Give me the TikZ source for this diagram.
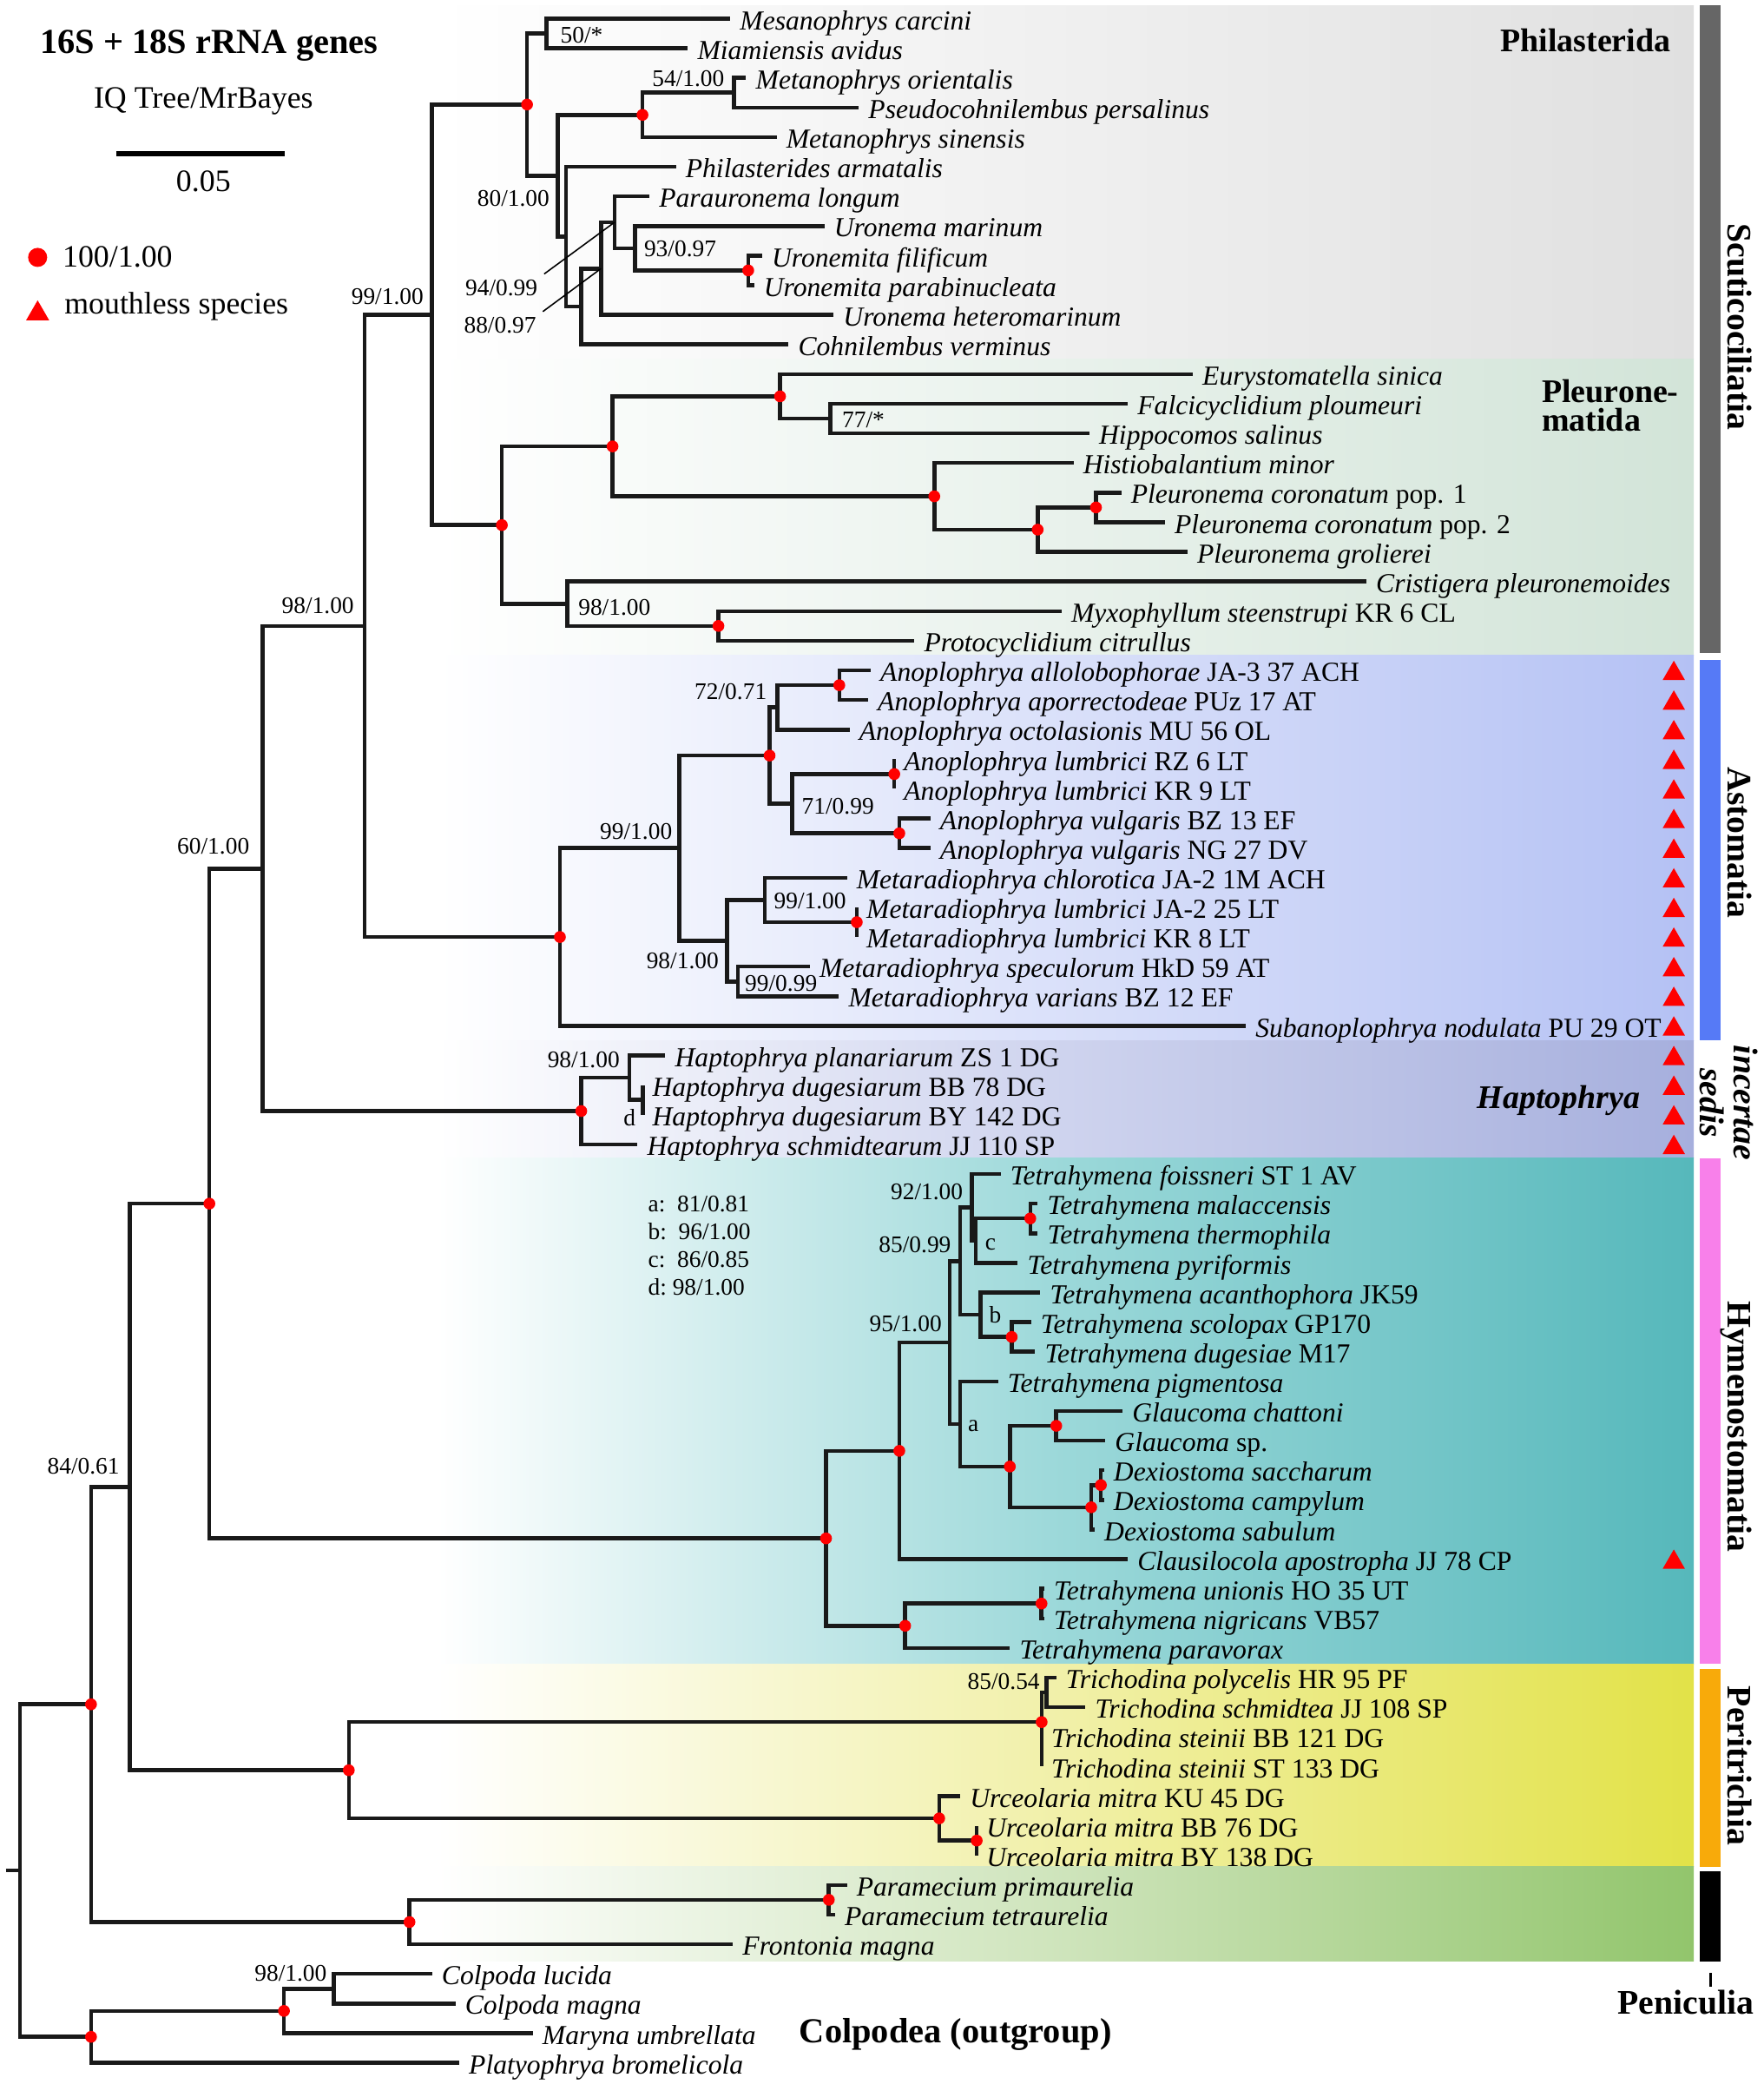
\documentclass[tikz,border=0pt]{standalone}
\usepackage{fontspec}
\setmainfont{Liberation Serif}
\usepackage{tkz-euclide}
\usetikzlibrary{shapes.geometric}
\definecolor{philR}{RGB}{224,224,224}
\definecolor{pleuR}{RGB}{210,228,216}
\definecolor{astoR}{RGB}{180,193,244}
\definecolor{haptM}{RGB}{206,211,238}
\definecolor{haptR}{RGB}{166,175,221}
\definecolor{hymeM}{RGB}{155,216,217}
\definecolor{hymeR}{RGB}{86,184,187}
\definecolor{periM}{RGB}{241,240,168}
\definecolor{periR}{RGB}{226,226,72}
\definecolor{peniM}{RGB}{206,228,187}
\definecolor{peniR}{RGB}{146,197,108}
\definecolor{scuBar}{RGB}{102,102,102}
\definecolor{astBar}{RGB}{86,122,246}
\definecolor{hymBar}{RGB}{248,128,234}
\definecolor{perBar}{RGB}{248,170,10}
\newcommand{\strain}[1]{\textup{#1}}
\newcommand{\dotr}{0.68mm}

\begin{document}
\begin{tikzpicture}[x=0.15267mm,y=-3.4117mm,
 branch/.style={line width=1.3pt,black!90},
 leader/.style={line width=0.45pt},
 taxon/.style={anchor=west,inner xsep=3pt,inner ysep=0pt,text height=0.72em,text depth=0pt,font=\fontsize{9}{10}\selectfont\itshape},
 supp/.style={inner sep=0pt,text height=0.68em,text depth=0pt,font=\fontsize{7.8}{9}\selectfont},
 legtext/.style={inner sep=0pt,font=\fontsize{10.2}{12}\selectfont},
 clade/.style={inner sep=0pt,font=\fontsize{10.8}{12}\selectfont\bfseries},
 sidelab/.style={rotate=-90,inner sep=0pt,text height=0.69em,text depth=0pt,font=\fontsize{11.3}{12}\selectfont\bfseries},
 mouth/.style={regular polygon,regular polygon sides=3,fill=red,inner sep=0pt,minimum size=2.97mm,yshift=-0.37mm}]
\useasboundingbox (0,0.3719) rectangle (1331,70.7173);
% coloured panels of the clades
\shade[left color=white,right color=philR] (330,0.55) rectangle (1278,12.49);
\shade[left color=white,right color=pleuR] (330,12.49) rectangle (1278,22.49);
\shade[left color=white,right color=astoR] (330,22.49) rectangle (1278,35.5);
\shade[left color=white,right color=haptR,middle color=haptM] (330,35.5) rectangle (1278,39.47);
\shade[left color=white,right color=hymeR,middle color=hymeM] (330,39.47) rectangle (1278,56.54);
\shade[left color=white,right color=periR,middle color=periM] (330,56.54) rectangle (1278,63.38);
\shade[left color=white,right color=peniR,middle color=peniM] (330,63.38) rectangle (1278,66.57);
% bars on the right
\fill[scuBar] (1282.3,0.55) rectangle (1298.2,22.41);
\fill[astBar] (1282.3,22.65) rectangle (1298.2,35.5);
\fill[hymBar] (1282.3,39.47) rectangle (1298.2,56.54);
\fill[perBar] (1282.3,56.71) rectangle (1298.2,63.38);
\fill[black] (1282.3,63.54) rectangle (1298.2,66.57);
% points: leaves and nodes
\tkzDefPoints{551/1/t1,519/2/t2,563/3/t3,648/4/t4,586/5/t5,510/6/t6,490/7/t7,622/8/t8,575/9/t9,569/10/t10,629/11/t11,595/12/t12}
\tkzDefPoints{412.3/1.5/nM,553.8/3.5/n54,484.8/4.25/n54p,564.6/9.5/nU,479.2/8.75/n93,463.7/7.875/n94,453.5/9.4375/n88,438.6/10.72/nP3,427/8.36/nP2,421/6.305/nP1,397.7/3.9/nP0}
\tkzDefPoints{900/13/t13,851/14/t14,822/15/t15,810/16/t16,846/17/t17,879/18/t18,896/19/t19,1031/20/t20,801/21/t21,690/22/t22}
\tkzDefPoints{626.6/14.5/n77,588.6/13.75/nEu,827/17.5/nPc,783/18.25/nPg,705/17.125/nHi,462.2/15.44/nPL,542.1/21.5/nMyx,428.2/20.75/n98a,378.7/18.095/nS2,326/11/nS1}
\tkzDefPoints{657/23/t23,655/24/t24,641/25/t25,674.8/26/t26,674.8/27/t27,702/28/t28,702/29/t29,639/30/t30,646.5/31/t31,646.5/32/t32,611/33/t33,633/34/t34,940/35/t35}
\tkzDefPoints{633.3/23.5/nAa,586.5/24.25/n72,674.8/26.5/nAl,678.6/28.5/nAv,597.6/27.5/n71,580.7/25.875/nAn,646.5/31.5/nMl,577.2/30.75/n99b,556.7/33.5/n99c,548.5/32.125/n98b,512.5/29/n99a,422.5/32/nAS,275/21.5/nQ}
\tkzDefPoints{502/36/t36,485/37/t37,485/38/t38,481/39/t39,485/37.5/nd,474.8/36.75/n98h,438.6/37.875/nH,198.2/29.69/nB}
\tkzDefPoints{755/40/t40,783/41/t41,783/42/t42,768/43/t43,785/44/t44,778/45/t45,781/46/t46,753/47/t47,847/48/t48,834/49/t49,833/50/t50,833/51/t51,826/52/t52,851/53/t53,788/54/t54,788/55/t55,762/56/t56}
\tkzDefPoints{777.4/41.5/nTm,736.2/42.25/nc,733.3/41.125/n92,763.4/45.5/nTs,740/44.75/nb,724.5/42.94/n85,797/48.5/nGl,830.7/50.5/nDx,823.4/51.25/nDs,762/49.875/nGD,724.5/48.44/na,716.6/45.69/n95,678.6/49.345/nCl,785.9/54.5/nTu,683/55.25/nTp,623.3/52.3/nHy,158/41/nA}
\tkzDefPoints{797/57/t57,819/58/t58,786/59/t59,786/60/t60,724.5/61/t61,737/62/t62,737/63/t63,789.7/57.5/n85t,786/58.5/nTr,737/62.5/nUk,708.7/61.75/nUr,263.2/60.125/nPe,98/50.56/n84}
\tkzDefPoints{639/64/t64,630/65/t65,553/66/t66,625.4/64.5/nPa,309/65.25/nPn,68.7/57.9/nIn}
\tkzDefPoints{326/67/t67,343.6/68/t68,402/69/t69,346.5/70/t70,252/67.5/n98c,214.3/68.25/nCm,68.7/69.125/nCo,15.2/63.51/nR,4.4/63.51/nR0}
\tkzDefPoints{87.7/5.55/sL,215/5.55/sR,28.4/9.06/kD}
% branches
\draw[branch] (nM)|-(t1) (nM)|-(t2) (n54)|-(t3) (n54)|-(t4) (n54p)|-(n54) (n54p)|-(t5)
 (nU)|-(t9) (nU)|-(t10) (n93)|-(t8) (n93)|-(nU) (n94)|-(t7) (n94)|-(n93) (n88)|-(n94) (n88)|-(t11)
 (nP3)|-(n88) (nP3)|-(t12) (nP2)|-(t6) (nP2)|-(nP3) (nP1)|-(n54p) (nP1)|-(nP2) (nP0)|-(nM) (nP0)|-(nP1);
\draw[branch] (n77)|-(t14) (n77)|-(t15) (nEu)|-(t13) (nEu)|-(n77) (nPc)|-(t17) (nPc)|-(t18) (nPg)|-(nPc) (nPg)|-(t19)
 (nHi)|-(t16) (nHi)|-(nPg) (nPL)|-(nEu) (nPL)|-(nHi) (nMyx)|-(t21) (nMyx)|-(t22) (n98a)|-(t20) (n98a)|-(nMyx)
 (nS2)|-(nPL) (nS2)|-(n98a) (nS1)|-(nP0) (nS1)|-(nS2);
\draw[branch] (nAa)|-(t23) (nAa)|-(t24) (n72)|-(nAa) (n72)|-(t25) (nAl)|-(t26) (nAl)|-(t27) (nAv)|-(t28) (nAv)|-(t29)
 (n71)|-(nAl) (n71)|-(nAv) (nAn)|-(n72) (nAn)|-(n71) (nMl)|-(t31) (nMl)|-(t32) (n99b)|-(t30) (n99b)|-(nMl)
 (n99c)|-(t33) (n99c)|-(t34) (n98b)|-(n99b) (n98b)|-(n99c) (n99a)|-(nAn) (n99a)|-(n98b) (nAS)|-(n99a) (nAS)|-(t35)
 (nQ)|-(nS1) (nQ)|-(nAS);
\draw[branch] (nd)|-(t37) (nd)|-(t38) (n98h)|-(t36) (n98h)|-(nd) (nH)|-(n98h) (nH)|-(t39) (nB)|-(nQ) (nB)|-(nH);
\draw[branch] (nTm)|-(t41) (nTm)|-(t42) (nc)|-(nTm) (nc)|-(t43) (n92)|-(t40) (n92)|-(nc) (nTs)|-(t45) (nTs)|-(t46)
 (nb)|-(t44) (nb)|-(nTs) (n85)|-(n92) (n85)|-(nb) (nGl)|-(t48) (nGl)|-(t49) (nDx)|-(t50) (nDx)|-(t51)
 (nDs)|-(nDx) (nDs)|-(t52) (nGD)|-(nGl) (nGD)|-(nDs) (na)|-(t47) (na)|-(nGD) (n95)|-(n85) (n95)|-(na)
 (nCl)|-(n95) (nCl)|-(t53) (nTu)|-(t54) (nTu)|-(t55) (nTp)|-(nTu) (nTp)|-(t56) (nHy)|-(nCl) (nHy)|-(nTp)
 (nA)|-(nB) (nA)|-(nHy);
\draw[branch] (n85t)|-(t57) (n85t)|-(t58) (nTr)|-(n85t) (nTr)|-(t59) (nTr)|-(t60) (nUk)|-(t62) (nUk)|-(t63)
 (nUr)|-(t61) (nUr)|-(nUk) (nPe)|-(nTr) (nPe)|-(nUr) (n84)|-(nA) (n84)|-(nPe);
\draw[branch] (nPa)|-(t64) (nPa)|-(t65) (nPn)|-(nPa) (nPn)|-(t66) (nIn)|-(n84) (nIn)|-(nPn)
 (n98c)|-(t67) (n98c)|-(t68) (nCm)|-(n98c) (nCm)|-(t69) (nCo)|-(nCm) (nCo)|-(t70)
 (nR)|-(nIn) (nR)|-(nCo) (nR0)--(nR);
% 100/1.00 nodes
\fill[red] (nP0) circle[radius=\dotr] (n54p) circle[radius=\dotr] (nU) circle[radius=\dotr]
 (nEu) circle[radius=\dotr] (nPc) circle[radius=\dotr] (nPg) circle[radius=\dotr] (nHi) circle[radius=\dotr]
 (nPL) circle[radius=\dotr] (nMyx) circle[radius=\dotr] (nS2) circle[radius=\dotr]
 (nAa) circle[radius=\dotr] (nAl) circle[radius=\dotr] (nAv) circle[radius=\dotr] (nAn) circle[radius=\dotr]
 (nMl) circle[radius=\dotr] (nAS) circle[radius=\dotr] (nH) circle[radius=\dotr]
 (nTm) circle[radius=\dotr] (nTs) circle[radius=\dotr] (nGl) circle[radius=\dotr] (nDx) circle[radius=\dotr]
 (nDs) circle[radius=\dotr] (nGD) circle[radius=\dotr] (nCl) circle[radius=\dotr] (nTu) circle[radius=\dotr]
 (nTp) circle[radius=\dotr] (nHy) circle[radius=\dotr] (nA) circle[radius=\dotr]
 (nTr) circle[radius=\dotr] (nUk) circle[radius=\dotr] (nUr) circle[radius=\dotr] (nPe) circle[radius=\dotr]
 (nPa) circle[radius=\dotr] (nPn) circle[radius=\dotr] (nIn) circle[radius=\dotr]
 (nCm) circle[radius=\dotr] (nCo) circle[radius=\dotr];
% support values
\node[supp,anchor=west] (s50) at (422.5,1.47) {50/*};
\node[supp,anchor=east] (s54) at (547,2.94) {54/1.00};
\node[supp,anchor=east] (s80) at (415,6.98) {80/1.00};
\node[supp,anchor=east] (s94) at (406,9.99) {94/0.99};
\node[supp,anchor=east] (s88) at (405,11.26) {88/0.97};
\draw[leader] ([xshift=2pt]s94.north east)--(n94) ([xshift=2pt]s88.north east)--(n88);
\node[supp,anchor=west] (s93) at (485.6,8.69) {93/0.97};
\node[supp,anchor=east] (s99s) at (320,10.28) {99/1.00};
\node[supp,anchor=west] (s77) at (635,14.45) {77/*};
\node[supp,anchor=west] (s98a) at (436,20.78) {98/1.00};
\node[supp,anchor=east] (s98q) at (267.5,20.74) {98/1.00};
\node[supp,anchor=east] (s72) at (579,23.63) {72/0.71};
\node[supp,anchor=west] (s71) at (604.6,27.51) {71/0.99};
\node[supp,anchor=east] (s99a) at (507.6,28.36) {99/1.00};
\node[supp,anchor=west] (s99b) at (583.6,30.7) {99/1.00};
\node[supp,anchor=east] (s98b) at (542.7,32.73) {98/1.00};
\node[supp,anchor=west] (s99c) at (561.7,33.48) {99/0.99};
\node[supp,anchor=east] (s60) at (188.6,28.85) {60/1.00};
\node[supp,anchor=east] (s98h) at (468,36.06) {98/1.00};
\node[supp,anchor=east] (sd) at (480,38.03) {d};
\node[supp,anchor=east] (s92) at (727,40.52) {92/1.00};
\node[supp,anchor=east] (s85) at (718,42.31) {85/0.99};
\node[supp,anchor=west] (sc) at (743,42.2) {c};
\node[supp,anchor=east] (s95) at (711,44.98) {95/1.00};
\node[supp,anchor=west] (sb) at (746,44.69) {b};
\node[supp,anchor=west] (sa) at (730,48.34) {a};
\node[supp,anchor=east] (s84) at (90.6,49.79) {84/0.61};
\node[supp,anchor=east] (s85t) at (785,57.04) {85/0.54};
\node[supp,anchor=east] (s98c) at (247,66.89) {98/1.00};
% key of the lettered nodes
\node[supp,anchor=west] (ka) at (488.6,40.93) {a:~~81/0.81};
\node[supp,anchor=west] (kb) at (488.6,41.85) {b:~~96/1.00};
\node[supp,anchor=west] (kc) at (488.6,42.81) {c:~~86/0.85};
\node[supp,anchor=west] (kd) at (488.6,43.74) {d:~98/1.00};
% taxa
\node[taxon] (L1) at (t1) {Mesanophrys carcini};
\node[taxon] (L2) at (t2) {Miamiensis avidus};
\node[taxon] (L3) at (t3) {Metanophrys orientalis};
\node[taxon] (L4) at (t4) {Pseudocohnilembus persalinus};
\node[taxon] (L5) at (t5) {Metanophrys sinensis};
\node[taxon] (L6) at (t6) {Philasterides armatalis};
\node[taxon] (L7) at (t7) {Parauronema longum};
\node[taxon] (L8) at (t8) {Uronema marinum};
\node[taxon] (L9) at (t9) {Uronemita filificum};
\node[taxon] (L10) at (t10) {Uronemita parabinucleata};
\node[taxon] (L11) at (t11) {Uronema heteromarinum};
\node[taxon] (L12) at (t12) {Cohnilembus verminus};
\node[taxon] (L13) at (t13) {Eurystomatella sinica};
\node[taxon] (L14) at (t14) {Falcicyclidium ploumeuri};
\node[taxon] (L15) at (t15) {Hippocomos salinus};
\node[taxon] (L16) at (t16) {Histiobalantium minor};
\node[taxon] (L17) at (t17) {Pleuronema coronatum \strain{pop. 1}};
\node[taxon] (L18) at (t18) {Pleuronema coronatum \strain{pop. 2}};
\node[taxon] (L19) at (t19) {Pleuronema grolierei};
\node[taxon] (L20) at (t20) {Cristigera pleuronemoides};
\node[taxon] (L21) at (t21) {Myxophyllum steenstrupi \strain{KR 6 CL}};
\node[taxon] (L22) at (t22) {Protocyclidium citrullus};
\node[taxon] (L23) at (t23) {Anoplophrya allolobophorae \strain{JA-3 37 ACH}};
\node[taxon] (L24) at (t24) {Anoplophrya aporrectodeae \strain{PUz 17 AT}};
\node[taxon] (L25) at (t25) {Anoplophrya octolasionis \strain{MU 56 OL}};
\node[taxon] (L26) at (t26) {Anoplophrya lumbrici \strain{RZ 6 LT}};
\node[taxon] (L27) at (t27) {Anoplophrya lumbrici \strain{KR 9 LT}};
\node[taxon] (L28) at (t28) {Anoplophrya vulgaris \strain{BZ 13 EF}};
\node[taxon] (L29) at (t29) {Anoplophrya vulgaris \strain{NG 27 DV}};
\node[taxon] (L30) at (t30) {Metaradiophrya chlorotica \strain{JA-2 1M ACH}};
\node[taxon] (L31) at (t31) {Metaradiophrya lumbrici \strain{JA-2 25 LT}};
\node[taxon] (L32) at (t32) {Metaradiophrya lumbrici \strain{KR 8 LT}};
\node[taxon] (L33) at (t33) {Metaradiophrya speculorum \strain{HkD 59 AT}};
\node[taxon] (L34) at (t34) {Metaradiophrya varians \strain{BZ 12 EF}};
\node[taxon] (L35) at (t35) {Subanoplophrya nodulata \strain{PU 29 OT}};
\node[taxon] (L36) at (t36) {Haptophrya planariarum \strain{ZS 1 DG}};
\node[taxon] (L37) at (t37) {Haptophrya dugesiarum \strain{BB 78 DG}};
\node[taxon] (L38) at (t38) {Haptophrya dugesiarum \strain{BY 142 DG}};
\node[taxon] (L39) at (t39) {Haptophrya schmidtearum \strain{JJ 110 SP}};
\node[taxon] (L40) at (t40) {Tetrahymena foissneri \strain{ST 1 AV}};
\node[taxon] (L41) at (t41) {Tetrahymena malaccensis};
\node[taxon] (L42) at (t42) {Tetrahymena thermophila};
\node[taxon] (L43) at (t43) {Tetrahymena pyriformis};
\node[taxon] (L44) at (t44) {Tetrahymena acanthophora \strain{JK59}};
\node[taxon] (L45) at (t45) {Tetrahymena scolopax \strain{GP170}};
\node[taxon] (L46) at (t46) {Tetrahymena dugesiae \strain{M17}};
\node[taxon] (L47) at (t47) {Tetrahymena pigmentosa};
\node[taxon] (L48) at (t48) {Glaucoma chattoni};
\node[taxon] (L49) at (t49) {Glaucoma \strain{sp.}};
\node[taxon] (L50) at (t50) {Dexiostoma saccharum};
\node[taxon] (L51) at (t51) {Dexiostoma campylum};
\node[taxon] (L52) at (t52) {Dexiostoma sabulum};
\node[taxon] (L53) at (t53) {Clausilocola apostropha \strain{JJ 78 CP}};
\node[taxon] (L54) at (t54) {Tetrahymena unionis \strain{HO 35 UT}};
\node[taxon] (L55) at (t55) {Tetrahymena nigricans \strain{VB57}};
\node[taxon] (L56) at (t56) {Tetrahymena paravorax};
\node[taxon] (L57) at (t57) {Trichodina polycelis \strain{HR 95 PF}};
\node[taxon] (L58) at (t58) {Trichodina schmidtea \strain{JJ 108 SP}};
\node[taxon] (L59) at (t59) {Trichodina steinii \strain{BB 121 DG}};
\node[taxon] (L60) at (t60) {Trichodina steinii \strain{ST 133 DG}};
\node[taxon] (L61) at (t61) {Urceolaria mitra \strain{KU 45 DG}};
\node[taxon] (L62) at (t62) {Urceolaria mitra \strain{BB 76 DG}};
\node[taxon] (L63) at (t63) {Urceolaria mitra \strain{BY 138 DG}};
\node[taxon] (L64) at (t64) {Paramecium primaurelia};
\node[taxon] (L65) at (t65) {Paramecium tetraurelia};
\node[taxon] (L66) at (t66) {Frontonia magna};
\node[taxon] (L67) at (t67) {Colpoda lucida};
\node[taxon] (L68) at (t68) {Colpoda magna};
\node[taxon] (L69) at (t69) {Maryna umbrellata};
\node[taxon] (L70) at (t70) {Platyophrya bromelicola};
% mouthless species
\path node[mouth] (m23) at (1263,23) {} node[mouth] (m24) at (1263,24) {} node[mouth] (m25) at (1263,25) {}
 node[mouth] (m26) at (1263,26) {} node[mouth] (m27) at (1263,27) {} node[mouth] (m28) at (1263,28) {}
 node[mouth] (m29) at (1263,29) {} node[mouth] (m30) at (1263,30) {} node[mouth] (m31) at (1263,31) {}
 node[mouth] (m32) at (1263,32) {} node[mouth] (m33) at (1263,33) {} node[mouth] (m34) at (1263,34) {}
 node[mouth] (m35) at (1263,35) {} node[mouth] (m36) at (1263,36) {} node[mouth] (m37) at (1263,37) {}
 node[mouth] (m38) at (1263,38) {} node[mouth] (m39) at (1263,39) {} node[mouth] (m53) at (1263,53) {};
% legend
\node[inner sep=0pt,anchor=base,font=\fontsize{11.5}{13}\selectfont\bfseries] (title) at (157.8,2.167) {16S + 18S rRNA genes};
\node[legtext,anchor=base] (prog) at (153.5,4.024) {IQ Tree/MrBayes};
\draw[line width=1.7pt] (sL)--(sR);
\node[legtext,anchor=base] (scale) at (153.5,6.84) {0.05};
\fill[red] (kD) circle[radius=1.1mm];
\node[legtext,anchor=base west] (kDt) at (46.8,9.39) {100/1.00};
\node[mouth,minimum size=3.08mm,yshift=-0.38mm] (kT) at (28.4,10.74) {};
\node[legtext,anchor=base west] (kTt) at (48.2,10.97) {mouthless species};
% clade names
\node[clade,anchor=base east] (phil) at (1261,2.11) {Philasterida};
\node[clade,anchor=base west] (pleu1) at (1163,13.95) {Pleurone-};
\node[clade,anchor=base west] (pleu2) at (1163,14.92) {matida};
\node[clade,anchor=base east,font=\fontsize{10.8}{12}\selectfont\bfseries\itshape] (hapt) at (1238,37.8) {Haptophrya};
\node[inner sep=0pt,anchor=base,font=\fontsize{11.5}{13}\selectfont\bfseries] (colp) at (721,69.33) {Colpodea (outgroup)};
\node[sidelab] (scut) at (1312,11.41) {Scuticociliatia};
\node[sidelab] (asto) at (1312,28.82) {Astomatia};
\node[rotate=-90,inner sep=0pt,align=center,font=\fontsize{11.3}{11.3}\selectfont\bfseries\itshape] (inse) at (1304.5,37.6) {incertae\\sedis};
\node[sidelab] (hyme) at (1312,48.52) {Hymenostomatia};
\node[sidelab] (peri) at (1312,59.97) {Peritrichia};
\tkzDefPoints{1290.8/66.97/pT,1290.8/67.42/pB}
\draw[leader,line width=0.7pt] (pT)--(pB);
\node[inner sep=0pt,anchor=base,font=\fontsize{11.3}{13}\selectfont\bfseries] (peni) at (1272,68.37) {Peniculia};
\end{tikzpicture}
\end{document}
